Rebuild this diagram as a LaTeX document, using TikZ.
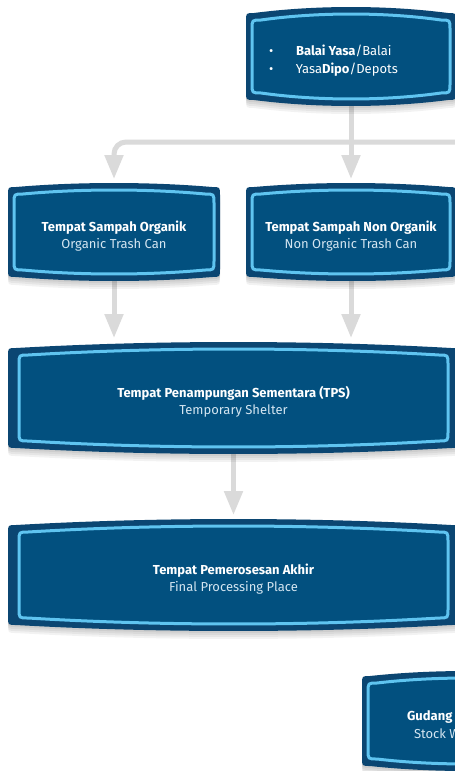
\documentclass[tikz,border=0pt]{standalone}
\usepackage{fontspec}
\setmainfont{Fira Sans}
\usetikzlibrary{arrows.meta}
\definecolor{outerblue}{HTML}{0B4672}
\definecolor{innerblue}{HTML}{02507F}
\definecolor{rimblue}{HTML}{5FC4F0}
\definecolor{conngray}{HTML}{DADADA}
\definecolor{subtxt}{HTML}{D3E5F1}
\pgfdeclarelayer{back}
\pgfdeclarelayer{shapes}
\pgfsetlayers{back,shapes,main}

\newcommand\setbulge[6]{%
 \pgfmathsetmacro\qL{#1}\pgfmathsetmacro\qR{#2}%
 \pgfmathsetmacro\qT{#3}\pgfmathsetmacro\qB{#4}%
 \pgfmathsetmacro\qa{\qL+#6}\pgfmathsetmacro\qb{\qR-#6}%
 \pgfmathsetmacro\qc{\qT+#6}\pgfmathsetmacro\qd{\qB-#6}%
 \pgfmathsetmacro\qe{\qL+0.33*(\qR-\qL)}\pgfmathsetmacro\qf{\qR-0.33*(\qR-\qL)}%
 \pgfmathsetmacro\qg{\qT-1.33*#5}\pgfmathsetmacro\qh{\qB+1.33*#5}}
\newcommand\bulgepath{(\qL,\qc) .. controls (\qL,\qT) .. (\qa,\qT) .. controls (\qe,\qg) and (\qf,\qg) .. (\qb,\qT) .. controls (\qR,\qT) .. (\qR,\qc) -- (\qR,\qd) .. controls (\qR,\qB) .. (\qb,\qB) .. controls (\qf,\qh) and (\qe,\qh) .. (\qa,\qB) .. controls (\qL,\qB) .. (\qL,\qd) -- cycle}

\tikzset{
 boxnode/.style={inner sep=0pt, outer sep=0pt, align=center, text=white,
   font=\fontsize{13}{17}\selectfont},
 conn/.style={draw=conngray, line width=5pt},
 arr/.style={conn, -{Triangle[width=18pt,length=24pt]}, shorten >=4pt},
 txtnode/.style={inner sep=0pt, outer sep=0pt, align=left, text=white,
   font=\fontsize{13}{18}\selectfont}
}

\newcommand\ttl[2]{\textbf{#1}\\\textcolor{subtxt}{#2}}

% name, L, R, Tcorner, Bcorner, bulge, insetx, text
\newcommand\boxnode[8]{%
 \pgfmathsetmacro\bW{(#3)-(#2)}\pgfmathsetmacro\bH{(#5)-(#4)+2*(#6)}%
 \pgfmathsetmacro\bX{((#2)+(#3))/2}\pgfmathsetmacro\bY{((#4)+(#5))/2}%
 \node[boxnode, minimum width=\bW pt, minimum height=\bH pt] (#1) at (\bX,\bY) {};
 \node[boxnode] (#1-txt) at (\bX,\bY+4) {#8};
 \begin{pgfonlayer}{shapes}
  \setbulge{#2}{#3}{#4}{#5}{#6}{8}%
  \foreach \s in {2,4,6,8} {\fill[black,opacity=0.05,shift={(0,\s)}] \bulgepath;}
  \fill[outerblue] \bulgepath;
  \pgfmathsetmacro\iL{(#2)+(#7)}\pgfmathsetmacro\iR{(#3)-(#7)}%
  \pgfmathsetmacro\iT{(#4)+7}\pgfmathsetmacro\iB{(#5)-7}%
  \setbulge{\iL}{\iR}{\iT}{\iB}{#6}{9}%
  \fill[innerblue, draw=rimblue, line width=3pt] \bulgepath;
 \end{pgfonlayer}}

\begin{document}
\begin{tikzpicture}[x=1pt,y=-1pt]
\clip (0,0) rectangle (455,771);

\boxnode{src}{246}{456}{13}{100}{6}{6}{}
\node[txtnode, anchor=base west] (srctxt) at (269,73)
  {\makebox[27pt][l]{•}\textbf{Balai Yasa}/Balai\\\makebox[27pt][l]{•}Yasa\textbf{Dipo}/Depots};

\boxnode{org}{8}{220}{187}{277}{4}{6}{\ttl{Tempat Sampah Organik}{Organic Trash Can}}
\boxnode{nonorg}{246}{456}{187}{277}{4}{6}{\ttl{Tempat Sampah Non Organik}{Non Organic Trash Can}}
\boxnode{tps}{8}{459}{348}{448}{6}{11}{\ttl{Tempat Penampungan Sementara (TPS)}{Temporary Shelter}}
\boxnode{fin}{8}{459}{525}{625}{6}{11}{\ttl{Tempat Pemerosesan Akhir}{Final Processing Place}}
\boxnode{gud}{362}{572}{676}{766}{5}{6}{}
\node[txtnode, anchor=base west] (gudtxt) at (407,738)
  {\textbf{Gudang}\\\hspace*{7pt}\textcolor{subtxt}{Stock W}};

\begin{pgfonlayer}{back}
\fill[white] (0,0) rectangle (455,771);
\coordinate (offr) at (470,142);
\draw[arr, rounded corners=12pt] (offr) -| (org.north);
\draw[arr] (src.south) -- (nonorg.north);
\draw[arr] (org.south) -- (org.south |- tps.north);
\draw[arr] (nonorg.south) -- (nonorg.south |- tps.north);
\draw[arr] (tps.south) -- (fin.north);
\end{pgfonlayer}
\end{tikzpicture}
\end{document}
